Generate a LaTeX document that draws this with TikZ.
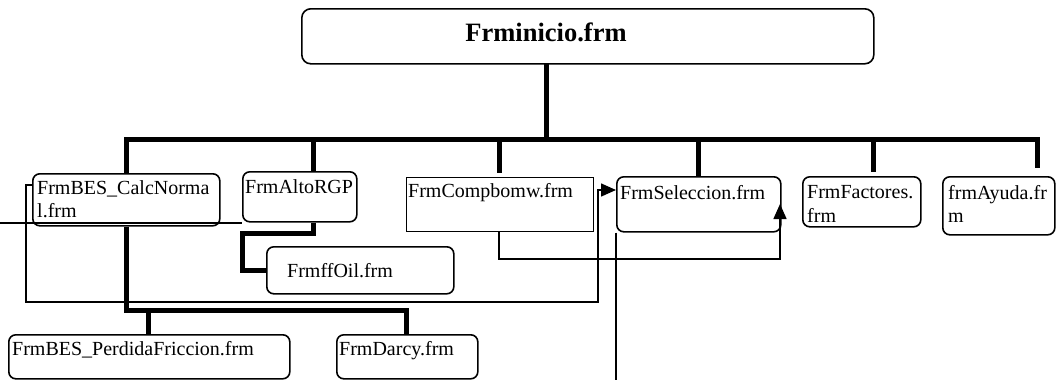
\documentclass[tikz,border=0pt]{standalone}
\usepackage{fontspec}
\setmainfont{Liberation Serif}
\usetikzlibrary{arrows.meta,calc}
\begin{document}
\begin{tikzpicture}[x=1pt,y=-1pt,
  rbox/.style={draw,line width=1.6pt,rounded corners=7pt,anchor=north west,inner sep=0pt},
  sbox/.style={draw,line width=1.4pt,anchor=north west,inner sep=0pt},
  lbl/.style={anchor=base west,inner sep=0pt,font=\fontsize{20}{22}\selectfont},
  busline/.style={line width=5pt,line join=miter},
  wire/.style={line width=1.5pt},
  tip/.style={-{Triangle[length=15pt,width=13pt]}},
]
\useasboundingbox (0,0) rectangle (1056,380);
% boxes
\node[rbox,rounded corners=9pt,minimum width=572pt,minimum height=55pt] (top) at (301,8) {};
\node[rbox,minimum width=187pt,minimum height=52pt] (calc) at (32,173) {};
\node[rbox,minimum width=114pt,minimum height=50pt] (alto) at (242,171) {};
\node[sbox,minimum width=187pt,minimum height=54pt] (comp) at (406,177) {};
\node[rbox,minimum width=164pt,minimum height=55pt] (sel) at (616,176) {};
\node[rbox,minimum width=118pt,minimum height=50pt] (fact) at (802,176) {};
\node[rbox,minimum width=112pt,minimum height=58pt] (ayuda) at (942,176) {};
\node[rbox,minimum width=187pt,minimum height=47pt] (ffoil) at (266,246) {};
\node[rbox,minimum width=281pt,minimum height=44pt] (fric) at (8,334) {};
\node[rbox,minimum width=141pt,minimum height=44pt] (darcy) at (336,334) {};
% texts
\node[anchor=base,inner sep=0pt,font=\bfseries\fontsize{26.5}{30}\selectfont] (top-t) at (546,41) {Frminicio.frm};
\node[lbl] (calc-t1) at (37,194) {FrmBES\_CalcNorma};
\node[lbl] (calc-t2) at (37,217) {l.frm};
\node[lbl] (alto-t) at (245,193) {FrmAltoRGP};
\node[lbl] (comp-t) at (408,197) {FrmCompbomw.frm};
\node[lbl] (sel-t) at (620,199) {FrmSeleccion.frm};
\node[lbl] (fact-t1) at (807,198) {FrmFactores.};
\node[lbl] (fact-t2) at (807,222) {frm};
\node[lbl] (ayuda-t1) at (948,199) {frmAyuda.fr};
\node[lbl] (ayuda-t2) at (948,222) {m};
\node[lbl] (ffoil-t) at (287,277) {FrmffOil.frm};
\node[lbl] (fric-t) at (12,355) {FrmBES\_PerdidaFriccion.frm};
\node[lbl] (darcy-t) at (339,355) {FrmDarcy.frm};
% bus coordinates
\coordinate (t0) at (546,63);
\coordinate (bl) at (126,139);
\coordinate (br) at (1037,139);
\coordinate (d2) at (313,139);
\coordinate (d3) at (499,139);
\coordinate (d4) at (698,139);
\coordinate (d5) at (873,139);
% thick tree lines
\draw[busline] (t0) -- (t0 |- bl);
\draw[busline] (calc.north -| bl) -- (bl) -- (br) -- ($(br |- ayuda.north)+(0,-8)$);
\draw[busline] (d2) -- (d2 |- alto.north);
\draw[busline] (d3) -- ($(d3 |- comp.north)+(0,-4)$);
\draw[busline] (d4) -- (d4 |- sel.north);
\draw[busline] (d5) -- ($(d5 |- fact.north)+(0,-4)$);
\coordinate (c1) at (126,310);
\coordinate (c2) at (148,310);
\coordinate (c3) at (406,310);
\draw[busline] (calc.south -| c1) -- (c1) -- (c3) -- (c3 |- darcy.north);
\draw[busline] (c2) -- (c2 |- fric.north);
\coordinate (a1) at (313,233);
\coordinate (a2) at (242,233);
\draw[busline] (alto.south -| a1) -- (a1) -- (a2) -- (a2 |- ffoil.west) -- (ffoil.west);
% thin connectors
\coordinate (w0) at (0,223);
\draw[wire] (w0) -- (w0 -| alto.west);
\coordinate (l1) at (26,185);
\coordinate (l2) at (26,302);
\coordinate (l3) at (598,302);
\coordinate (l4) at (598,190);
\draw[wire,tip] (l1 -| calc.west) -- (l1) -- (l2) -- (l3) -- (l4) -- (l4 -| sel.west);
\coordinate (m1) at (499,259);
\coordinate (m2) at (780,259);
\coordinate (m3) at (780,204);
\draw[wire,tip] (m1 |- comp.south) -- (m1) -- (m2) -- (m3);
\coordinate (s1) at (616,380);
\draw[wire] (sel.south west) -- (s1);
\end{tikzpicture}
\end{document}
